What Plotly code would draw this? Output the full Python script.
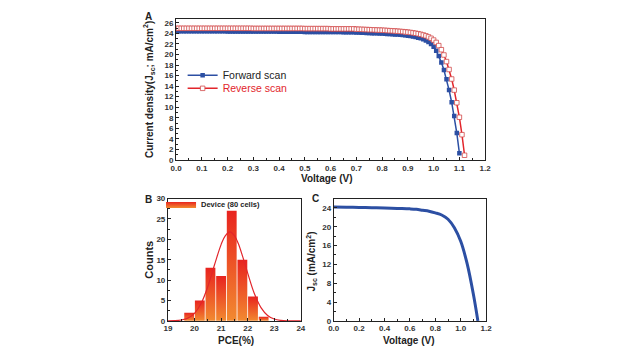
import plotly.graph_objects as go

# ---------------- Panel A data (J-V, forward / reverse) ----------------
v_fwd = [0.00, 0.01, 0.02, 0.03, 0.04, 0.05, 0.06, 0.07, 0.08, 0.09,
         0.10, 0.11, 0.12, 0.13, 0.14, 0.15, 0.16, 0.17, 0.18, 0.19,
         0.20, 0.21, 0.22, 0.23, 0.24, 0.25, 0.26, 0.27, 0.28, 0.29,
         0.30, 0.31, 0.32, 0.33, 0.34, 0.35, 0.36, 0.37, 0.38, 0.39,
         0.40, 0.41, 0.42, 0.43, 0.44, 0.45, 0.46, 0.47, 0.48, 0.49,
         0.50, 0.51, 0.52, 0.53, 0.54, 0.55, 0.56, 0.57, 0.58, 0.59,
         0.60, 0.61, 0.62, 0.63, 0.64, 0.65, 0.66, 0.67, 0.68, 0.69,
         0.70, 0.71, 0.72, 0.73, 0.74, 0.75, 0.76, 0.77, 0.78, 0.79,
         0.80, 0.81, 0.82, 0.83, 0.84, 0.85, 0.86, 0.87, 0.88, 0.89,
         0.90, 0.91, 0.92, 0.93, 0.94, 0.95, 0.96, 0.97, 0.98, 0.99,
         1.00, 1.01, 1.02, 1.03, 1.04, 1.05, 1.06, 1.07, 1.08, 1.09,
         1.10]
j_fwd = [24.40, 24.40, 24.40, 24.40, 24.40, 24.40, 24.40, 24.40, 24.40, 24.40,
         24.38, 24.38, 24.38, 24.38, 24.38, 24.38, 24.38, 24.38, 24.38, 24.38,
         24.36, 24.36, 24.36, 24.36, 24.36, 24.36, 24.36, 24.36, 24.36, 24.36,
         24.34, 24.34, 24.34, 24.34, 24.34, 24.34, 24.34, 24.34, 24.34, 24.34,
         24.32, 24.32, 24.32, 24.32, 24.32, 24.32, 24.32, 24.32, 24.32, 24.32,
         24.28, 24.28, 24.28, 24.28, 24.28, 24.28, 24.28, 24.28, 24.28, 24.28,
         24.24, 24.24, 24.24, 24.24, 24.24, 24.20, 24.20, 24.20, 24.20, 24.20,
         24.16, 24.14, 24.12, 24.10, 24.08, 24.06, 24.04, 24.02, 24.00, 23.98,
         23.95, 23.92, 23.89, 23.86, 23.83, 23.80, 23.76, 23.72, 23.67, 23.62,
         23.56, 23.49, 23.41, 23.31, 23.19, 23.05, 22.88, 22.66, 22.38, 21.98,
         21.45, 20.70, 19.70, 18.50, 17.05, 15.30, 13.25, 10.95, 8.35, 5.10,
         1.30]

v_rev = [0.00, 0.01, 0.02, 0.03, 0.04, 0.05, 0.06, 0.07, 0.08, 0.09,
         0.10, 0.11, 0.12, 0.13, 0.14, 0.15, 0.16, 0.17, 0.18, 0.19,
         0.20, 0.21, 0.22, 0.23, 0.24, 0.25, 0.26, 0.27, 0.28, 0.29,
         0.30, 0.31, 0.32, 0.33, 0.34, 0.35, 0.36, 0.37, 0.38, 0.39,
         0.40, 0.41, 0.42, 0.43, 0.44, 0.45, 0.46, 0.47, 0.48, 0.49,
         0.50, 0.51, 0.52, 0.53, 0.54, 0.55, 0.56, 0.57, 0.58, 0.59,
         0.60, 0.61, 0.62, 0.63, 0.64, 0.65, 0.66, 0.67, 0.68, 0.69,
         0.70, 0.71, 0.72, 0.73, 0.74, 0.75, 0.76, 0.77, 0.78, 0.79,
         0.80, 0.81, 0.82, 0.83, 0.84, 0.85, 0.86, 0.87, 0.88, 0.89,
         0.90, 0.91, 0.92, 0.93, 0.94, 0.95, 0.96, 0.97, 0.98, 0.99,
         1.00, 1.01, 1.02, 1.03, 1.04, 1.05, 1.06, 1.07, 1.08, 1.09,
         1.10, 1.11, 1.12]
j_rev = [24.95, 24.95, 24.95, 24.95, 24.95, 24.95, 24.95, 24.95, 24.95, 24.95,
         24.95, 24.95, 24.95, 24.95, 24.95, 24.95, 24.95, 24.95, 24.95, 24.95,
         24.95, 24.95, 24.95, 24.95, 24.95, 24.95, 24.95, 24.95, 24.95, 24.95,
         24.93, 24.93, 24.93, 24.93, 24.93, 24.93, 24.93, 24.93, 24.93, 24.93,
         24.93, 24.93, 24.93, 24.93, 24.93, 24.93, 24.93, 24.93, 24.93, 24.93,
         24.90, 24.90, 24.90, 24.90, 24.90, 24.90, 24.90, 24.90, 24.90, 24.90,
         24.85, 24.85, 24.85, 24.85, 24.85, 24.85, 24.85, 24.85, 24.85, 24.85,
         24.80, 24.78, 24.76, 24.74, 24.72, 24.70, 24.68, 24.66, 24.64, 24.62,
         24.60, 24.57, 24.54, 24.51, 24.48, 24.45, 24.41, 24.37, 24.33, 24.28,
         24.23, 24.17, 24.10, 24.02, 23.93, 23.82, 23.69, 23.53, 23.33, 23.07,
         22.73, 22.28, 21.68, 20.90, 19.90, 18.65, 17.15, 15.35, 13.25, 10.85,
         8.10, 4.80, 0.90]

# ---------------- Panel B data (PCE histogram + fit) ----------------
pce_bins = [19.8, 20.2, 20.6, 21.0, 21.4, 21.8, 22.2, 22.6]
pce_counts = [2, 5, 13, 11, 27, 15, 6, 1]
bin_width = 0.4
fit_x = [19.0, 19.25, 19.5, 19.75, 20.0, 20.25, 20.5, 20.75, 21.0, 21.15, 21.33,
         21.5, 21.65, 21.8, 22.0, 22.25, 22.5, 22.75, 23.0, 23.25, 23.5, 24.0]
fit_y = [0.01, 0.05, 0.21, 0.68, 1.86, 4.3, 8.4, 13.7, 18.7, 20.8, 21.8,
         20.9, 18.9, 16.0, 11.7, 6.7, 3.25, 1.33, 0.45, 0.13, 0.03, 0.0]

# ---------------- Panel C data (champion J-V) ----------------
v_c = [0.0, 0.1, 0.2, 0.3, 0.4, 0.5, 0.6, 0.65, 0.7, 0.75, 0.8, 0.85, 0.9,
       0.95, 1.0, 1.05, 1.1, 1.135]
j_c = [24.2, 24.15, 24.1, 24.05, 24.0, 23.9, 23.8, 23.7, 23.5, 23.3, 22.95,
       22.5, 21.6, 19.8, 16.9, 12.2, 5.6, 0.0]

BLUE = "#2c4fa3"
RED = "#e2252b"
FONT = "Liberation Sans"

fig = go.Figure()

# Panel A
fig.add_trace(go.Scatter(
    x=v_fwd, y=j_fwd, mode="lines+markers", name="Forward scan",
    line=dict(color=BLUE, width=1.5),
    marker=dict(symbol="square", size=4.5, color=BLUE, line=dict(width=0)),
    xaxis="x", yaxis="y", legend="legend"))
fig.add_trace(go.Scatter(
    x=v_rev, y=j_rev, mode="lines+markers",
    name='<span style="color:#e2252b">Reverse scan</span>',
    line=dict(color=RED, width=1.5),
    marker=dict(symbol="square", size=4.5, color="white",
                line=dict(width=0.8, color="#d24a4a")),
    xaxis="x", yaxis="y", legend="legend3"))

# Panel B: bars with vertical gradient (red top -> orange bottom)
for i, (c, n) in enumerate(zip(pce_bins, pce_counts)):
    x0 = c - bin_width / 2 + 0.015
    x1 = c + bin_width / 2 - 0.015
    fig.add_trace(go.Scatter(
        x=[x0, x0, x1, x1, x0], y=[0, n, n, 0, 0],
        mode="lines", fill="toself",
        fillgradient=dict(type="vertical",
                          colorscale=[[0, "#f28a30"], [1, "#e8231f"]]),
        line=dict(width=0, color="#ee5a28"),
        name="Device (80 cells)", showlegend=(i == 0),
        hoverinfo="skip", xaxis="x2", yaxis="y2", legend="legend2"))
fig.add_trace(go.Scatter(
    x=fit_x, y=fit_y, mode="lines", line=dict(color=RED, width=1.2, shape="spline"),
    showlegend=False, xaxis="x2", yaxis="y2"))

# Panel C
fig.add_trace(go.Scatter(
    x=v_c, y=j_c, mode="lines", line=dict(color=BLUE, width=3, shape="spline"),
    showlegend=False, xaxis="x3", yaxis="y3"))

tickfont = dict(size=8, color="#333333", family=FONT, weight="bold")
axis_common = dict(showline=True, linecolor="#222222", linewidth=1, mirror=True,
                   ticks="inside", ticklen=3, tickcolor="#222222", showgrid=False,
                   zeroline=False, tickfont=tickfont)


def minor(d):
    return dict(ticks="inside", ticklen=2, tickcolor="#222222", dtick=d, showgrid=False)


legend_font = dict(size=10.5, color="#222222", family=FONT)

fig.update_layout(
    width=640, height=360,
    margin=dict(l=0, r=0, t=0, b=0),
    paper_bgcolor="white", plot_bgcolor="white",
    font=dict(family=FONT, color="#222222"),
    xaxis=dict(domain=[173.3 / 640, 488.3 / 640], range=[0, 1.2], dtick=0.1,
               tickformat=".1f", minor=minor(0.05), anchor="y", **axis_common),
    yaxis=dict(domain=[(360 - 160) / 360, (360 - 15.5) / 360], range=[0, 26.7],
               dtick=2, minor=minor(1), anchor="x", **axis_common),
    xaxis2=dict(domain=[165 / 640, 300.5 / 640], range=[19, 24], dtick=1,
                minor=minor(0.5), anchor="y2", **axis_common),
    yaxis2=dict(domain=[(360 - 325) / 360, (360 - 199.5) / 360], range=[0, 30],
                dtick=5, minor=minor(2.5), anchor="x2", **axis_common),
    xaxis3=dict(domain=[334 / 640, 489.3 / 640], range=[0, 1.2], dtick=0.2,
                tickformat=".1f", minor=minor(0.1), anchor="y3", **axis_common),
    yaxis3=dict(domain=[(360 - 325) / 360, (360 - 199.5) / 360], range=[0, 26],
                dtick=4, minor=minor(2), anchor="x3", **axis_common),
    legend=dict(x=180 / 640, y=1 - 73 / 360, xanchor="left", yanchor="middle",
                bgcolor="rgba(0,0,0,0)", font=legend_font, itemwidth=30),
    legend3=dict(x=180 / 640, y=1 - 86.5 / 360, xanchor="left", yanchor="middle",
                 bgcolor="rgba(0,0,0,0)", font=legend_font, itemwidth=30),
    legend2=dict(x=158 / 640, y=1 - 205 / 360, xanchor="left", yanchor="middle",
                 bgcolor="rgba(0,0,0,0)",
                 font=dict(size=7.5, color="#222222", family=FONT, weight="bold"),
                 itemwidth=30),
)

ann = [
    dict(text="A", x=145 / 640, y=1 - 13 / 360, font=dict(size=10)),
    dict(text="B", x=145 / 640, y=1 - 200 / 360, font=dict(size=10)),
    dict(text="C", x=315 / 640, y=1 - 199 / 360, font=dict(size=10)),
    dict(text="Current density(J<sub>sc</sub>; mA/cm<sup>2</sup>)", x=146 / 640,
         y=1 - 88 / 360, textangle=-90, font=dict(size=10)),
    dict(text="Voltage (V)", x=327 / 640, y=1 - 179 / 360, font=dict(size=10)),
    dict(text="Counts", x=146 / 640, y=1 - 262 / 360, textangle=-90, font=dict(size=11)),
    dict(text="PCE(%)", x=234 / 640, y=1 - 345 / 360, font=dict(size=10)),
    dict(text="J<sub>sc</sub> (mA/cm<sup>2</sup>)", x=311 / 640, y=1 - 264 / 360,
         textangle=-90, font=dict(size=10)),
    dict(text="Voltage (V)", x=410 / 640, y=1 - 345 / 360, font=dict(size=10)),
]
for a in ann:
    a["font"] = dict(family=FONT, color="#222222", weight="bold", **a["font"])
    fig.add_annotation(xref="paper", yref="paper", showarrow=False,
                       xanchor="center", yanchor="middle", **a)

fig.write_html("out.html", config={"displayModeBar": False},
               post_script="document.body.style.margin='0px';")
